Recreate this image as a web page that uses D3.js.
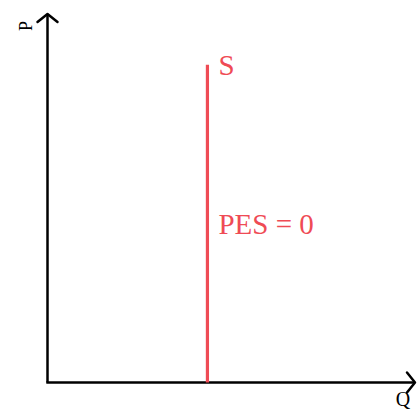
<!DOCTYPE html>
<html>
<head>
<meta charset="utf-8">
<script src="https://cdn.jsdelivr.net/npm/d3@7"></script>
<style>
  body { margin: 0; background: #fff; }
  text { font-family: "Liberation Serif", "DejaVu Serif", serif; }
</style>
</head>
<body>
<svg width="418" height="412"></svg>
<script>
// perfectly inelastic supply
const supplyQ = [43.4, 43.4];
const supplyP = [0, 86];
const axisLabels = ["P", "Q"];
const curveLabels = ["S", "PES = 0"];

const svg = d3.select("svg");
const red = "#ef4b55";

const x = d3.scaleLinear().domain([0, 100]).range([47.5, 416]);
const y = d3.scaleLinear().domain([0, 100]).range([382.5, 13]);

// axes
svg.append("line")
    .attr("x1", x(0)).attr("y1", y(0))
    .attr("x2", x(0)).attr("y2", y(100) + 1)
    .attr("stroke", "black").attr("stroke-width", 2.5);
svg.append("line")
    .attr("x1", x(0) - 1.2).attr("y1", y(0))
    .attr("x2", x(100) - 1).attr("y2", y(0))
    .attr("stroke", "black").attr("stroke-width", 2.5);

// arrow heads
svg.append("path")
    .attr("d", `M${x(0) - 10},${y(100) + 9} L${x(0)},${y(100) + 1} L${x(0) + 10},${y(100) + 9}`)
    .attr("fill", "none").attr("stroke", "black").attr("stroke-width", 2.5)
    .attr("stroke-linecap", "round").attr("stroke-linejoin", "round");
svg.append("path")
    .attr("d", `M${x(100) - 9},${y(0) - 10} L${x(100) - 1},${y(0)} L${x(100) - 9},${y(0) + 10}`)
    .attr("fill", "none").attr("stroke", "black").attr("stroke-width", 2.5)
    .attr("stroke-linecap", "round").attr("stroke-linejoin", "round");

// axis labels
svg.append("text")
    .attr("transform", `translate(32,26) rotate(-90)`)
    .attr("text-anchor", "middle")
    .attr("font-size", 18)
    .text(axisLabels[0]);
svg.append("text")
    .attr("x", 403).attr("y", 406)
    .attr("text-anchor", "middle")
    .attr("font-size", 20)
    .text(axisLabels[1]);

// supply line
const line = d3.line().x(d => x(d[0])).y(d => y(d[1]));
svg.append("path")
    .datum(supplyQ.map((q, i) => [q, supplyP[i]]))
    .attr("d", line)
    .attr("fill", "none")
    .attr("stroke", red)
    .attr("stroke-width", 3.2);

svg.append("text")
    .attr("x", x(supplyQ[1]) + 11).attr("y", 75)
    .attr("fill", red).attr("font-size", 29)
    .text(curveLabels[0]);
svg.append("text")
    .attr("x", x(supplyQ[1]) + 11).attr("y", 234)
    .attr("fill", red).attr("font-size", 29)
    .text(curveLabels[1]);
</script>
</body>
</html>
